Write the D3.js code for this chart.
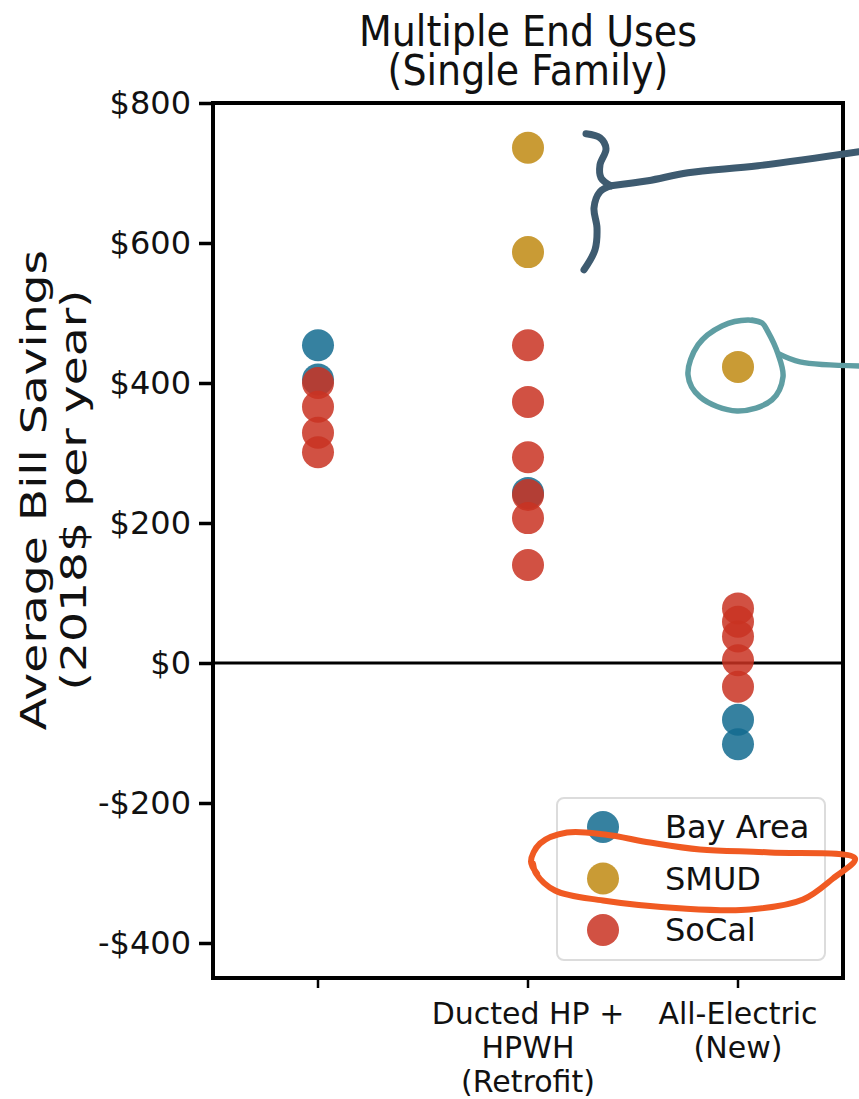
<!DOCTYPE html>
<html>
<head>
<meta charset="utf-8">
<script src="https://cdn.jsdelivr.net/npm/d3@7/dist/d3.min.js"></script>
<style>
  html, body { margin: 0; padding: 0; background: #fff; }
  svg { display: block; font-family: "DejaVu Sans", sans-serif; }
</style>
</head>
<body>
<svg id="chart" width="859" height="1099"></svg>
<script>
// ---- data ----
const categories = ["", "Ducted HP + HPWH (Retrofit)", "All-Electric (New)"];
const categoryLabelLines = [[], ["Ducted HP +", "HPWH", "(Retrofit)"], ["All-Electric", "(New)"]];
const seriesNames = ["Bay Area", "SMUD", "SoCal"];
const seriesColors = ["#136b8f", "#c08a12", "#c93222"];
// values per category (same order as categories)
const bayArea = [[454, 405], [243], [-81, -116]];
const smud = [[], [736, 587], [423]];
const soCal = [[400, 366, 329, 301], [454, 373, 294, 240, 207, 140], [78, 59, 38, 4, -34]];
const yTicks = [-400, -200, 0, 200, 400, 600, 800];
const yDomain = [-450, 800];
const titleLines = ["Multiple End Uses", "(Single Family)"];
const yLabelLines = ["Average Bill Savings", "(2018$ per year)"];

// ---- layout ----
const W = 859, H = 1099;
const plot = { left: 213, right: 843, top: 103, bottom: 978 };
const svg = d3.select("#chart");

const x = d3.scaleBand().domain(categories).range([plot.left, plot.right]);
const y = d3.scaleLinear().domain(yDomain).range([plot.bottom, plot.top]);
const xc = c => x(c) + x.bandwidth() / 2;

// title (glyphs slightly taller than wide, as in the reference)
const title = svg.append("text")
  .attr("transform", `translate(${(plot.left + plot.right) / 2},0) scale(1,1.1)`)
  .attr("text-anchor", "middle")
  .attr("font-size", 38)
  .attr("fill", "#111");
title.selectAll("tspan").data(titleLines).join("tspan")
  .attr("x", 0)
  .attr("y", (d, i) => (46 + i * 39) / 1.1)
  .text(d => d);

// y label (compressed across the line direction, as in the reference)
const ylScale = 0.8;
const yl = svg.append("text")
  .attr("transform", `translate(0,490) rotate(-90) scale(1.05,${ylScale})`)
  .attr("text-anchor", "middle")
  .attr("font-size", 45)
  .attr("fill", "#111");
yl.selectAll("tspan").data(yLabelLines).join("tspan")
  .attr("x", 0)
  .attr("y", (d, i) => (46 + i * 40) / ylScale)
  .text(d => d);

// y axis
const yAxis = d3.axisLeft(y)
  .tickValues(yTicks)
  .tickFormat(d => (d < 0 ? "-$" : "$") + Math.abs(d))
  .tickSize(14)
  .tickPadding(8);
const gy = svg.append("g").attr("transform", `translate(${plot.left},0)`).call(yAxis);
gy.select(".domain").remove();
gy.selectAll(".tick line").attr("stroke", "#000").attr("stroke-width", 3.5);
gy.selectAll(".tick text").attr("font-size", 32).attr("fill", "#111")
  .attr("font-family", "DejaVu Sans, sans-serif");

// x axis
const xAxis = d3.axisBottom(x).tickSize(10).tickFormat("");
const gx = svg.append("g").attr("transform", `translate(0,${plot.bottom})`).call(xAxis);
gx.select(".domain").remove();
gx.selectAll(".tick line").attr("stroke", "#000").attr("stroke-width", 2.5);
gx.selectAll(".tick").each(function(d, i) {
  const t = d3.select(this).append("text")
    .attr("text-anchor", "middle")
    .attr("font-size", 30)
    .attr("fill", "#111")
    .attr("font-family", "DejaVu Sans, sans-serif");
  t.selectAll("tspan").data(categoryLabelLines[i]).join("tspan")
    .attr("x", 0)
    .attr("y", (dd, j) => 46 + j * 34)
    .text(dd => dd);
});

// zero line
svg.append("line")
  .attr("x1", plot.left).attr("x2", plot.right)
  .attr("y1", y(0)).attr("y2", y(0))
  .attr("stroke", "#000").attr("stroke-width", 3);

// points
const seriesData = [bayArea, smud, soCal];
const pts = [];
seriesData.forEach((s, si) => {
  s.forEach((vals, ci) => {
    vals.forEach(v => pts.push({ series: si, cat: categories[ci], v }));
  });
});
svg.append("g").selectAll("circle").data(pts).join("circle")
  .attr("cx", d => xc(d.cat))
  .attr("cy", d => y(d.v))
  .attr("r", 16)
  .attr("fill", d => seriesColors[d.series])
  .attr("fill-opacity", 0.85);

// frame
svg.append("rect")
  .attr("x", plot.left).attr("y", plot.top)
  .attr("width", plot.right - plot.left).attr("height", plot.bottom - plot.top)
  .attr("fill", "none").attr("stroke", "#000").attr("stroke-width", 4);

// legend
const lg = svg.append("g").attr("transform", "translate(557,798)");
lg.append("rect").attr("width", 268).attr("height", 162).attr("rx", 7)
  .attr("fill", "#fff").attr("fill-opacity", 0.8)
  .attr("stroke", "#dcdcdc").attr("stroke-width", 2);
const items = lg.selectAll("g.item").data(seriesNames).join("g")
  .attr("class", "item")
  .attr("transform", (d, i) => `translate(0,${29 + i * 51.5})`);
items.append("circle").attr("cx", 46).attr("cy", 0).attr("r", 16)
  .attr("fill", (d, i) => seriesColors[i]).attr("fill-opacity", 0.85);
items.append("text").attr("x", 108).attr("y", 0).attr("dy", "0.35em")
  .attr("font-size", 32).attr("fill", "#111").text(d => d);

// ---- hand-drawn annotations (anchored to scale positions) ----
const smooth = d3.line().curve(d3.curveCatmullRom.alpha(0.5));
// brace next to the SMUD retrofit points
const bx = xc(categories[1]), byTop = y(smud[1][0]);
const braceCol = "#3e5b70";
const braceUpper = [[58,-14],[72,-10],[78,1],[72,17],[73,30],[83,38]].map(p => [bx + p[0], byTop + p[1]]);
const braceLower = [[83,38],[72,44],[66,60],[69,80],[67,102],[56,122]].map(p => [bx + p[0], byTop + p[1]]);
const braceArm = [[83,38],[120,33],[160,25],[230,18],[331,4]].map(p => [bx + p[0], byTop + p[1]]);
[braceUpper, braceLower, braceArm].forEach(pp => {
  svg.append("path").attr("d", smooth(pp)).attr("fill", "none")
    .attr("stroke", braceCol).attr("stroke-width", 7)
    .attr("stroke-linecap", "round").attr("stroke-linejoin", "round");
});
// teal loop around SMUD new-construction point
const tx = xc(categories[2]), ty = y(smud[2][0]);
const tealCol = "#5f9ea3";
const loop = [[24,-44],[10,-47],[-16,-41],[-40,-22],[-50,8],[-38,30],[-1,44],[34,33],[45,10],[40,-13],[30,-35],[24,-44],[14,-47]]
  .map(p => [tx + p[0], ty + p[1]]);
svg.append("path").attr("d", smooth(loop)).attr("fill", "none")
  .attr("stroke", tealCol).attr("stroke-width", 5.5).attr("stroke-linecap", "round");
const tail = [[41,-13],[62,-5],[121,-1]].map(p => [tx + p[0], ty + p[1]]);
svg.append("path").attr("d", smooth(tail)).attr("fill", "none")
  .attr("stroke", tealCol).attr("stroke-width", 5.5).attr("stroke-linecap", "round");
// orange ellipse around the SMUD legend entry
const ox = 557 + 46, oy = 798 + 29 + 51.5;
const orangeCol = "#f05a22";
const ell = [[-66,-5],[-72,-17],[-63,-35],[-36,-46],[2,-44],[47,-36],[97,-29],[167,-26],[252,-20],[230,0],[200,21],[147,31],[80,30],[0,22],[-48,12],[-67,-5],[-70,-15]]
  .map(p => [ox + p[0], oy + p[1]]);
svg.append("path").attr("d", smooth(ell)).attr("fill", "none")
  .attr("stroke", orangeCol).attr("stroke-width", 6).attr("stroke-linecap", "round").attr("stroke-linejoin", "round");
</script>
</body>
</html>
